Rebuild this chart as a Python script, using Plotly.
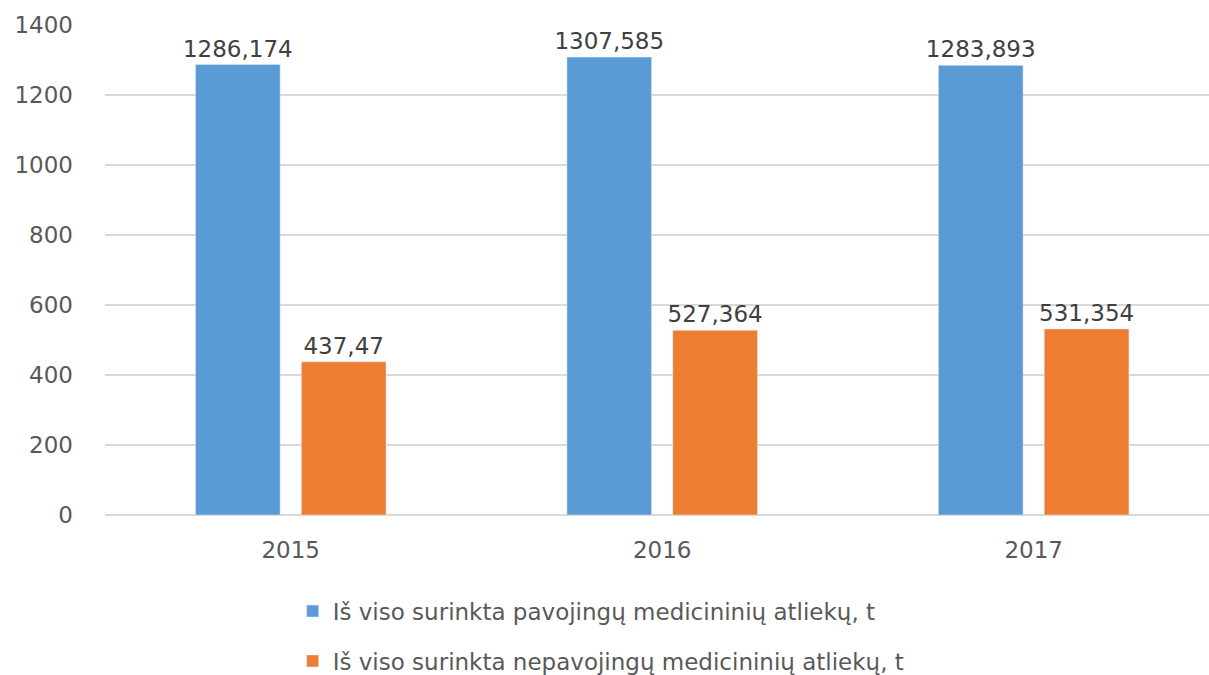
import plotly.graph_objects as go

years = ["2015", "2016", "2017"]
hazardous = [1286.174, 1307.585, 1283.893]
non_hazardous = [437.47, 527.364, 531.354]
hazardous_labels = ["1286,174", "1307,585", "1283,893"]
non_hazardous_labels = ["437,47", "527,364", "531,354"]
series_names = [
    "Iš viso surinkta pavojingų medicininių atliekų, t",
    "Iš viso surinkta nepavojingų medicininių atliekų, t",
]
y_ticks = [0, 200, 400, 600, 800, 1000, 1200, 1400]

font_family = "DejaVu Sans, Open Sans, sans-serif"
gray = "#595959"

fig = go.Figure()
fig.add_trace(go.Bar(
    x=years, y=hazardous, name=series_names[0],
    marker=dict(color="#5B9BD5"),
    text=hazardous_labels, textposition="outside", constraintext="none",
    textfont=dict(size=23, color="#404040", family=font_family),
    cliponaxis=False, legendgroup="a",
))
fig.add_trace(go.Bar(
    x=years, y=non_hazardous, name=series_names[1],
    marker=dict(color="#ED7D31"),
    text=non_hazardous_labels, textposition="outside", constraintext="none",
    textfont=dict(size=23, color="#404040", family=font_family),
    cliponaxis=False, legendgroup="b",
))

fig.update_layout(
    width=1209, height=675,
    margin=dict(l=105, r=0, t=24, b=160, autoexpand=False),
    paper_bgcolor="white", plot_bgcolor="white",
    barmode="group", bargap=0.43, bargroupgap=0.2,
    font=dict(family=font_family, color=gray, size=23),
    showlegend=True,
    legend=dict(
        orientation="v", x=0.17, xanchor="left", y=-0.152, yanchor="top",
        font=dict(size=23, color=gray, family=font_family),
        tracegroupgap=17, itemwidth=30,
    ),
    xaxis=dict(
        type="category", range=[-0.5, 2.472], showgrid=False,
        showline=False, ticks="", tickfont=dict(size=23, color=gray),
        ticklabelstandoff=19,
    ),
    yaxis=dict(
        range=[0, 1402], autorange=False, tickvals=y_ticks, showgrid=True,
        gridcolor="#D9D9D9", gridwidth=1.5, zeroline=True,
        zerolinecolor="#D9D9D9", zerolinewidth=1.5,
        tickfont=dict(size=23, color=gray), ticks="", ticklabelstandoff=31,
        ticklabeloverflow="allow",
    ),
)

fig.write_html(
    "out.html",
    config={"displayModeBar": False},
    post_script="document.body.style.margin='0';document.documentElement.style.overflow='hidden';",
)
